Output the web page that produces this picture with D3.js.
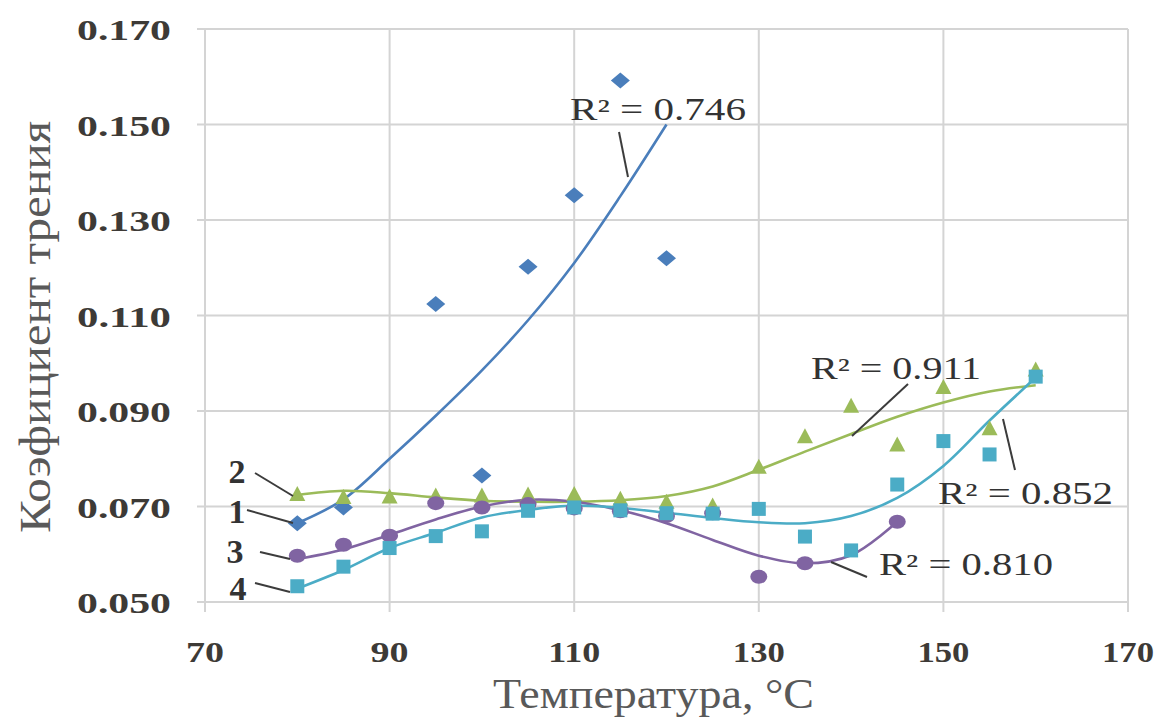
<!DOCTYPE html>
<html>
<head>
<meta charset="utf-8">
<script src="https://cdn.jsdelivr.net/npm/d3@7/dist/d3.min.js"></script>
<style>
  html, body { margin: 0; padding: 0; background: #fff; }
  svg { display: block; }
</style>
</head>
<body>
<svg id="chart" width="1160" height="728"></svg>
<script>
// ---- data ----
const xTicks = [70, 90, 110, 130, 150, 170];
const yTicks = [0.05, 0.07, 0.09, 0.11, 0.13, 0.15, 0.17];
const yTickLabels = ["0.050", "0.070", "0.090", "0.110", "0.130", "0.150", "0.170"];

// series 1 (blue diamonds)
const s1x = [80, 85, 95, 100, 105, 110, 115, 120];
const s1y = [0.0665, 0.0698, 0.1124, 0.0765, 0.1202, 0.1352, 0.1592, 0.1220];
const t1x = [80, 85, 90, 95, 100, 105, 110, 115, 120];
const t1y = [0.0665, 0.0715, 0.0800, 0.0890, 0.0985, 0.1090, 0.1210, 0.1350, 0.1500];

// series 2 (green triangles)
const s2x = [80, 85, 90, 95, 100, 105, 110, 115, 120, 125, 130, 135, 140, 145, 150, 155, 160];
const s2y = [0.0724, 0.0718, 0.0719, 0.0721, 0.0721, 0.0723, 0.0724, 0.0714, 0.0708, 0.0700, 0.0781, 0.0845, 0.0909, 0.0828, 0.0948, 0.0862, 0.0985];
const t2x = [80, 85, 90, 95, 100, 105, 110, 115, 120, 125, 130, 135, 140, 145, 150, 155, 160];
const t2y = [0.0724, 0.0733, 0.0728, 0.0719, 0.0712, 0.0710, 0.0710, 0.0713, 0.0722, 0.0742, 0.0777, 0.0815, 0.0852, 0.0888, 0.0918, 0.0941, 0.0954];

// series 3 (purple circles)
const s3x = [80, 85, 90, 95, 100, 105, 110, 115, 120, 125, 130, 135, 145];
const s3y = [0.0597, 0.0620, 0.0639, 0.0707, 0.0698, 0.0705, 0.0696, 0.0690, 0.0680, 0.0686, 0.0553, 0.0581, 0.0668];
const t3x = [80, 85, 90, 95, 100, 105, 110, 115, 120, 125, 130, 135, 140, 145];
const t3y = [0.0590, 0.0610, 0.0641, 0.0673, 0.0700, 0.0714, 0.0710, 0.0692, 0.0665, 0.0630, 0.0597, 0.0581, 0.0598, 0.0668];

// series 4 (cyan squares)
const s4x = [80, 85, 90, 95, 100, 105, 110, 115, 120, 125, 130, 135, 140, 145, 150, 155, 160];
const s4y = [0.0533, 0.0574, 0.0613, 0.0638, 0.0648, 0.0691, 0.0698, 0.0692, 0.0686, 0.0685, 0.0695, 0.0637, 0.0608, 0.0746, 0.0837, 0.0809, 0.0972];
const t4x = [80, 85, 90, 95, 100, 105, 110, 115, 120, 125, 130, 135, 140, 145, 150, 155, 160];
const t4y = [0.0528, 0.0567, 0.0613, 0.0645, 0.0677, 0.0693, 0.0702, 0.0697, 0.0687, 0.0676, 0.0667, 0.0665, 0.0680, 0.0718, 0.0785, 0.0880, 0.0970];

const r2Labels = ["R² = 0.746", "R² = 0.911", "R² = 0.810", "R² = 0.852"];
const seriesNames = ["1", "2", "3", "4"];
const xTitle = "Температура, °C";
const yTitle = "Коэфициент трения";

// ---- layout ----
const svg = d3.select("#chart");
const x = d3.scaleLinear().domain([70, 170]).range([205, 1128]);
const y = d3.scaleLinear().domain([0.05, 0.17]).range([602, 29]);
const grid = "#d4d4d4";
const serif = "'Liberation Serif', 'DejaVu Serif', serif";
const colors = ["#4a7ebb", "#9bbb59", "#8064a2", "#4bacc6"];

// gridlines
svg.append("g").selectAll("line.h").data(yTicks).join("line")
  .attr("x1", x(70) - 8).attr("x2", x(170))
  .attr("y1", d => y(d)).attr("y2", d => y(d))
  .attr("stroke", grid).attr("stroke-width", 2);
svg.append("g").selectAll("line.v").data(xTicks).join("line")
  .attr("x1", d => x(d)).attr("x2", d => x(d))
  .attr("y1", y(0.17)).attr("y2", y(0.05) + 10)
  .attr("stroke", grid).attr("stroke-width", 2);

// y tick labels
svg.append("g").selectAll("text").data(yTicks).join("text")
  .attr("x", 77).attr("y", d => y(d) + 11)
  .attr("textLength", 94).attr("lengthAdjust", "spacingAndGlyphs")
  .attr("font-family", serif).attr("font-weight", "bold").attr("font-size", 29)
  .attr("fill", "#3d3a36")
  .text((d, i) => yTickLabels[i]);

// x tick labels
svg.append("g").selectAll("text").data(xTicks).join("text")
  .attr("x", d => x(d) - (d < 100 ? 19 : 26)).attr("y", 662)
  .attr("textLength", d => d < 100 ? 38 : 52).attr("lengthAdjust", "spacingAndGlyphs")
  .attr("font-family", serif).attr("font-weight", "bold").attr("font-size", 30)
  .attr("fill", "#3d3a36")
  .text(d => d);

// axis titles
svg.append("text")
  .attr("x", 493).attr("y", 708)
  .attr("textLength", 321).attr("lengthAdjust", "spacingAndGlyphs")
  .attr("font-family", serif).attr("font-size", 42).attr("fill", "#595959")
  .text(xTitle);
svg.append("text")
  .attr("transform", "translate(50,533) rotate(-90)")
  .attr("textLength", 412).attr("lengthAdjust", "spacingAndGlyphs")
  .attr("font-family", serif).attr("font-size", 45).attr("fill", "#595959")
  .text(yTitle);

// trend lines
const line = d3.line().x(d => x(d[0])).y(d => y(d[1])).curve(d3.curveCatmullRom.alpha(0.5));
const trends = [[t1x, t1y], [t2x, t2y], [t3x, t3y], [t4x, t4y]];
trends.forEach(([tx, ty], i) => {
  svg.append("path")
    .attr("d", line(tx.map((v, j) => [v, ty[j]])))
    .attr("fill", "none").attr("stroke", colors[i]).attr("stroke-width", 2.6);
});

// markers
const mk = svg.append("g");
const diamond = "M0,-8 L9.5,0 L0,8 L-9.5,0 Z";
mk.selectAll("path.d").data(s1x.map((v, j) => [v, s1y[j]])).join("path")
  .attr("d", diamond).attr("transform", d => `translate(${x(d[0])},${y(d[1])})`)
  .attr("fill", colors[0]);
mk.selectAll("path.t").data(s2x.map((v, j) => [v, s2y[j]])).join("path")
  .attr("d", "M0,-9 L8,6 L-8,6 Z").attr("transform", d => `translate(${x(d[0])},${y(d[1])})`)
  .attr("fill", colors[1]);
mk.selectAll("ellipse").data(s3x.map((v, j) => [v, s3y[j]])).join("ellipse")
  .attr("cx", d => x(d[0])).attr("cy", d => y(d[1])).attr("rx", 8.5).attr("ry", 7)
  .attr("fill", colors[2]);
mk.selectAll("rect").data(s4x.map((v, j) => [v, s4y[j]])).join("rect")
  .attr("x", d => x(d[0]) - 7).attr("y", d => y(d[1]) - 7).attr("width", 14).attr("height", 14)
  .attr("fill", colors[3]);

// series number labels with leaders
const lead = "#3c3c3c";
const numPos = [[237, 523, 247, 510, 293, 523], [237, 483, 255, 473, 293, 496],
                [235, 563, 260, 552, 290, 559], [238, 600, 255, 583, 290, 592]];
numPos.forEach((p, i) => {
  svg.append("text").attr("x", p[0]).attr("y", p[1]).attr("text-anchor", "middle")
    .attr("font-family", serif).attr("font-size", 34).attr("font-weight", "bold")
    .attr("fill", "#333").text(seriesNames[i]);
  svg.append("line").attr("x1", p[2]).attr("y1", p[3]).attr("x2", p[4]).attr("y2", p[5])
    .attr("stroke", lead).attr("stroke-width", 2);
});

// R² labels with leaders
const r2Pos = [
  [570, 120, 176, 619, 132, 628, 177],
  [811, 379, 170, 908, 384, 852, 436],
  [879, 575, 174, 831, 562, 867, 577],
  [938, 504, 175, 1003, 419, 1015, 470]
];
r2Pos.forEach((p, i) => {
  svg.append("line").attr("x1", p[3]).attr("y1", p[4]).attr("x2", p[5]).attr("y2", p[6])
    .attr("stroke", lead).attr("stroke-width", 2);
  svg.append("text").attr("x", p[0]).attr("y", p[1])
    .attr("textLength", p[2]).attr("lengthAdjust", "spacingAndGlyphs")
    .attr("font-family", serif).attr("font-size", 31)
    .attr("fill", "#333").text(r2Labels[i]);
});
</script>
</body>
</html>
